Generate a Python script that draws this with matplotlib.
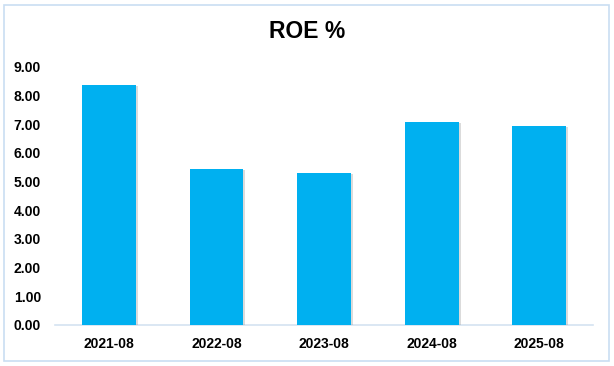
import matplotlib.pyplot as plt
from matplotlib.patches import Rectangle
import matplotlib.patheffects as pe

periods = ["2021-08", "2022-08", "2023-08", "2024-08", "2025-08"]
roe = [8.37, 5.44, 5.30, 7.08, 6.94]
yticks = [0, 1, 2, 3, 4, 5, 6, 7, 8, 9]

plt.rcParams['font.family'] = ['Liberation Sans', 'DejaVu Sans']

fig = plt.figure(figsize=(6.14, 3.66), dpi=100)
fig.patches.append(Rectangle((4 / 614, 5 / 366), 605 / 614, 356 / 366,
                             transform=fig.transFigure, fill=False,
                             edgecolor="#c9def2", linewidth=1.2))

ax = fig.add_axes([55 / 614, 1 - 325 / 366, 538 / 614, 258 / 366])
x = range(len(periods))
bars = ax.bar(x, roe, width=0.5, color="#00b0f0", zorder=3)
for b in bars:
    b.set_path_effects([pe.SimplePatchShadow(offset=(1.5, -1), shadow_rgbFace="#999999", alpha=0.35),
                        pe.Normal()])

ax.set_xlim(-0.5, len(periods) - 0.5)
ax.set_ylim(0, 9)
ax.set_yticks(yticks)
ax.set_yticklabels([f"{v:.2f}" for v in yticks], fontsize=10, fontweight="bold")
ax.set_xticks(list(x))
ax.set_xticklabels(periods, fontsize=10, fontweight="bold")
ax.tick_params(length=0)
ax.tick_params(axis="y", pad=10)
ax.tick_params(axis="x", pad=9)
for s in ["top", "right", "left"]:
    ax.spines[s].set_visible(False)
ax.spines["bottom"].set_color("#d4e3f1")
ax.spines["bottom"].set_linewidth(1.2)

fig.text(307 / 614, 1 - 32 / 366, "ROE %", ha="center", va="center",
         fontsize=16.5, fontweight="bold")

fig.savefig("out.png", dpi=100)
